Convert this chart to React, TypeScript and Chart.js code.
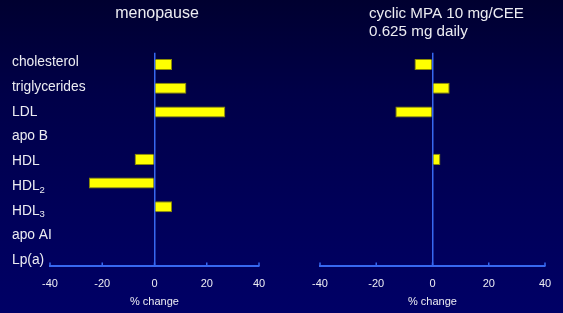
import React, { useEffect, useRef } from "react";
import { Chart, registerables } from "chart.js";

Chart.register(...registerables);

const categories = ["cholesterol", "triglycerides", "LDL", "apo B", "HDL", "HDL₂", "HDL₃", "apo AI", "Lp(a)"];
const menopauseValues = [6.7, 12.2, 27.1, null, -7.6, -25.1, 6.7, null, null];
const mpaValues = [-6.4, 6.1, -13.2, null, 2.8, null, null, null, null];
const xTicks = [-40, -20, 0, 20, 40];
const leftTitle = ["menopause"];
const rightTitle = ["cyclic MPA 10 mg/CEE", "0.625 mg daily"];
const axisTitle = "% change";

const FONT = "'Liberation Sans', Arial, Helvetica, sans-serif";
const TEXT = "#ececf2";
const BLUE = "#3768f0";
const SUBS: Record<string, string> = { "₀": "0", "₁": "1", "₂": "2", "₃": "3", "₄": "4", "₅": "5", "₆": "6", "₇": "7", "₈": "8", "₉": "9" };

type PanelOpts = {
  values: (number | null)[];
  yWidth: number;
  padRight: number;
  title: string[];
  titleX: number;
  titleAlign: CanvasTextAlign;
  titleSize: number;
  showLabels: boolean;
};

function drawLabel(ctx: CanvasRenderingContext2D, text: string, x: number, y: number) {
  let cx = x;
  for (const ch of text) {
    if (SUBS[ch]) {
      ctx.font = `9.5px ${FONT}`;
      ctx.fillText(SUBS[ch], cx, y + 4);
      cx += ctx.measureText(SUBS[ch]).width;
    } else {
      ctx.font = `13.8px ${FONT}`;
      ctx.fillText(ch, cx, y);
      cx += ctx.measureText(ch).width;
    }
  }
}

function makeChart(canvas: HTMLCanvasElement, o: PanelOpts) {
  const decor = {
    id: "decor",
    afterDraw(chart: any) {
      const ctx: CanvasRenderingContext2D = chart.ctx;
      const xs = chart.scales.x;
      const area = chart.chartArea;
      ctx.save();
      // upward tick marks
      ctx.strokeStyle = BLUE;
      ctx.lineWidth = 1.5;
      for (const v of xTicks) {
        const px = xs.getPixelForValue(v);
        ctx.beginPath();
        ctx.moveTo(px, area.bottom);
        ctx.lineTo(px, area.bottom - 3.5);
        ctx.stroke();
      }
      // titles
      ctx.fillStyle = TEXT;
      ctx.textBaseline = "alphabetic";
      ctx.textAlign = o.titleAlign;
      ctx.font = `${o.titleSize}px ${FONT}`;
      o.title.forEach((line, i) => ctx.fillText(line, o.titleX, 17.5 + i * 18.6));
      // category labels
      if (o.showLabels) {
        ctx.textAlign = "left";
        ctx.textBaseline = "middle";
        categories.forEach((c, i) => drawLabel(ctx, c, 12, 62.5 + i * 24.7));
      }
      ctx.restore();
    },
  };

  return new Chart(canvas, {
    type: "bar",
    data: {
      labels: categories,
      datasets: [
        {
          data: o.values as any,
          backgroundColor: "#ffff00",
          borderColor: "#8c8c00",
          borderWidth: 1,
          barPercentage: 0.47,
          categoryPercentage: 1,
        },
      ],
    },
    options: {
      indexAxis: "y",
      animation: false,
      responsive: false,
      maintainAspectRatio: false,
      layout: { padding: { left: 0, right: o.padRight, top: 52.7, bottom: 0 } },
      plugins: { legend: { display: false }, tooltip: { enabled: false }, title: { display: false } },
      scales: {
        x: {
          type: "linear",
          min: -40,
          max: 40,
          afterBuildTicks: (s: any) => {
            s.ticks = xTicks.map((v) => ({ value: v }));
          },
          ticks: { color: TEXT, font: { family: FONT, size: 11 }, padding: 11, maxRotation: 0, autoSkip: false },
          grid: {
            drawTicks: false,
            drawOnChartArea: true,
            lineWidth: 1.5,
            color: (c: any) => (c.tick && c.tick.value === 0 ? BLUE : "rgba(0,0,0,0)"),
          },
          border: { display: true, color: BLUE, width: 2 },
          title: {
            display: true,
            text: axisTitle,
            color: TEXT,
            font: { family: FONT, size: 11 },
            padding: { top: 0, bottom: 4.7 },
          },
          afterFit: (s: any) => {
            s.height = 47;
          },
        },
        y: {
          type: "category",
          ticks: { display: false },
          grid: { display: false },
          border: { display: false },
          afterFit: (s: any) => {
            s.width = o.yWidth;
          },
        },
      },
    },
    plugins: [decor],
  } as any);
}

export default function App() {
  const leftRef = useRef<HTMLCanvasElement>(null);
  const rightRef = useRef<HTMLCanvasElement>(null);

  useEffect(() => {
    const a = makeChart(leftRef.current!, {
      values: menopauseValues,
      yWidth: 50,
      padRight: 21,
      title: leftTitle,
      titleX: 157,
      titleAlign: "center",
      titleSize: 16,
      showLabels: true,
    });
    const b = makeChart(rightRef.current!, {
      values: mpaValues,
      yWidth: 40,
      padRight: 18,
      title: rightTitle,
      titleX: 89,
      titleAlign: "left",
      titleSize: 15.2,
      showLabels: false,
    });
    return () => {
      a.destroy();
      b.destroy();
    };
  }, []);

  return (
    <div
      style={{
        position: "fixed",
        left: 0,
        top: 0,
        width: 563,
        height: 313,
        background: "linear-gradient(to bottom, #000030 0%, #000048 30%, #000058 65%, #000066 100%)",
        overflow: "hidden",
      }}
    >
      <canvas ref={leftRef} width={280} height={313} style={{ position: "absolute", left: 0, top: 0, display: "block" }} />
      <canvas ref={rightRef} width={283} height={313} style={{ position: "absolute", left: 280, top: 0, display: "block" }} />
    </div>
  );
}
